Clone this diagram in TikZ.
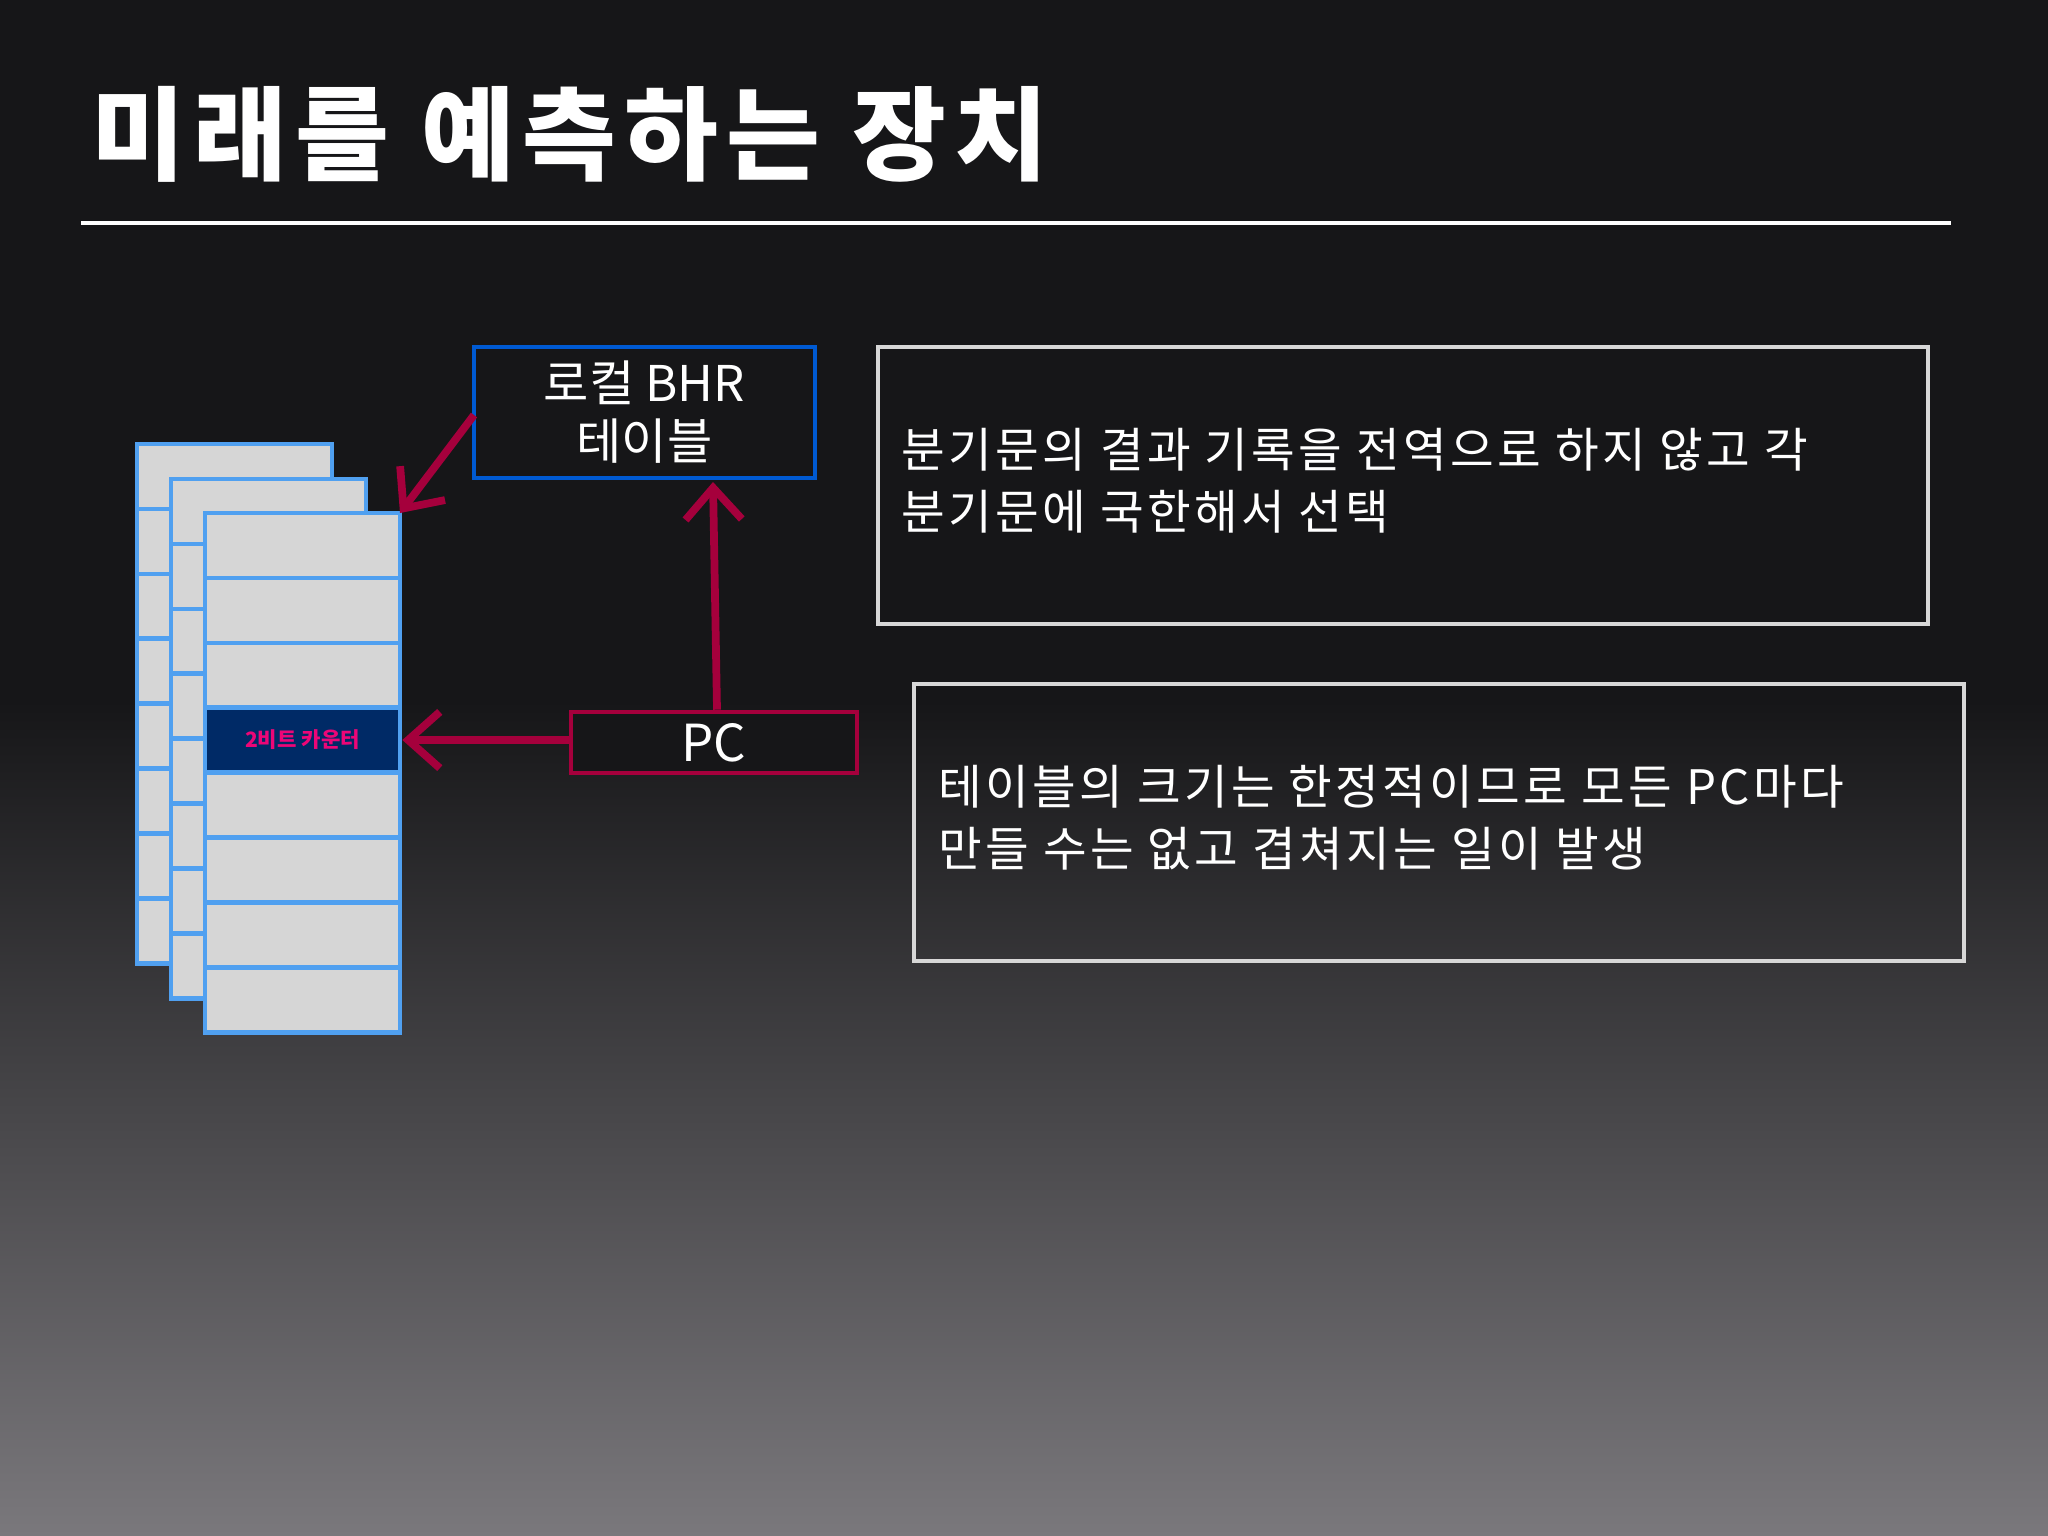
\documentclass[tikz,border=0pt]{standalone}
\usepackage{fontspec}
\setmainfont{Noto Sans CJK KR}
\usetikzlibrary{arrows.meta}
\definecolor{bgtop}{RGB}{22,22,24}
\definecolor{bgbot}{RGB}{122,120,124}
\definecolor{cellblue}{RGB}{80,160,240}
\definecolor{cellfill}{RGB}{214,214,214}
\definecolor{navy}{RGB}{0,42,102}
\definecolor{crim}{RGB}{165,0,60}
\definecolor{bhrblue}{RGB}{0,90,210}
\definecolor{boxgray}{RGB}{215,215,215}
\tikzset{
  cell/.style={draw=cellblue,line width=1.3pt,fill=cellfill},
  arr/.style={draw=crim,line width=2.2pt,-{Straight Barb[length=9pt,width=16pt,line width=2.2pt]}},
  txt/.style={text=white,font=\fontsize{13.5}{17.5}\selectfont\addfontfeatures{LetterSpace=7},align=left,anchor=north west,inner sep=0pt},
}
\begin{document}
\begin{tikzpicture}[x=0.01cm,y=-0.01cm]
\useasboundingbox (0,0) rectangle (2048,1536);
\fill[bgtop] (0,0) rectangle (2048,1536);
\shade[top color=bgtop,bottom color=bgbot] (0,700) rectangle (2048,1536);
\node[anchor=west,text=white,font=\fontsize{29}{30}\selectfont\bfseries\addfontfeatures{LetterSpace=8},inner sep=0pt] (title) at (91,134) {미래를 예측하는 장치};
\draw[white,line width=1.4pt] (81,223) -- (1951,223);
% tables
\foreach \ox/\oy in {137/444,171/479,205/513}{
  \foreach \i in {0,...,7}{
    \draw[cell] (\ox,{\oy+\i*64.9}) rectangle ({\ox+195},{\oy+(\i+1)*64.9});
  }
}
\node[draw=cellblue,line width=1.3pt,fill=navy,minimum width=1.95cm,minimum height=0.649cm,inner sep=0pt,text=magenta!80!red,font=\fontsize{6}{7}\selectfont\bfseries] (ctr) at (302.5,740) {2비트 카운터};
\coordinate (ftop) at (400,513);
\node[draw=bhrblue,line width=1.3pt,fill=bgtop,minimum width=3.41cm,minimum height=1.31cm,inner sep=0pt,text=white,align=center,font=\fontsize{14}{16.5}\selectfont] (bhr) at (644.5,412.5) {로컬 BHR\\테이블};
\node[draw=crim,line width=1.3pt,fill=bgtop,minimum width=2.86cm,minimum height=0.61cm,inner sep=0pt,text=white,font=\fontsize{14.5}{16}\selectfont] (pc) at (714,742.5) {PC};
\coordinate (bhrtop) at (713,482);
\draw[arr] ([xshift=0.03cm]pc.north) -- (bhrtop);
\draw[arr] (pc.west |- ctr.east) -- (ctr.east);
\coordinate (bhrl) at (474,415);
\draw[arr] (bhrl) -- (ftop);
\draw[boxgray,line width=1.2pt] (878,347) rectangle (1928,624);
\node[txt] (t1) at (901,428) {분기문의 결과 기록을 전역으로 하지 않고 각\\분기문에 국한해서 선택};
\draw[boxgray,line width=1.2pt] (914,684) rectangle (1964,961);
\node[txt] (t2) at (938,765) {테이블의 크기는 한정적이므로 모든 PC마다\\만들 수는 없고 겹쳐지는 일이 발생};
\end{tikzpicture}
\end{document}
